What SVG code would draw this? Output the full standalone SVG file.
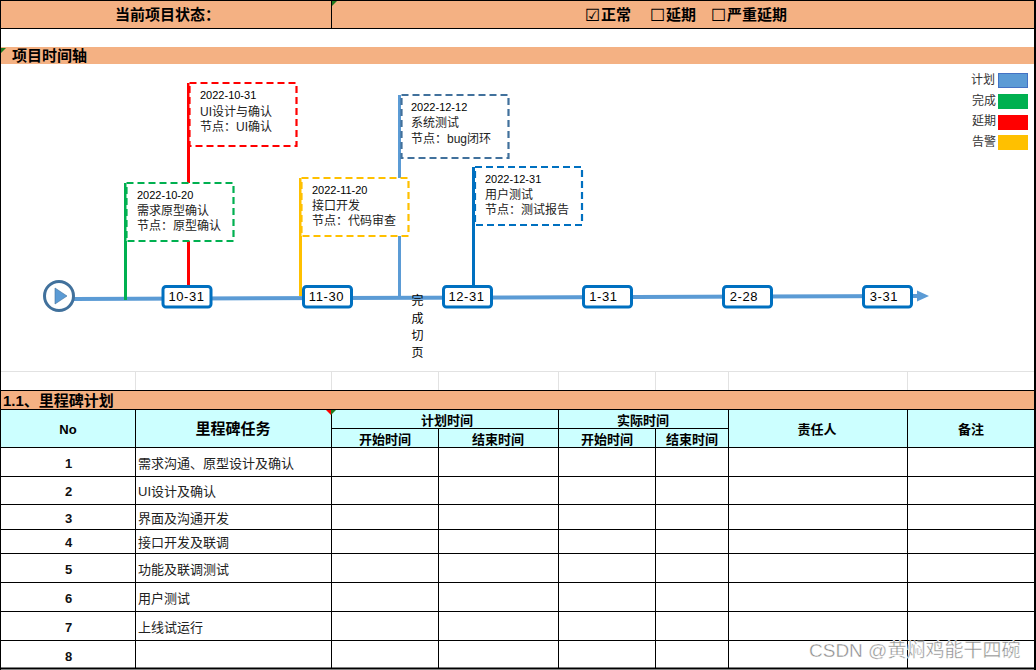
<svg xmlns="http://www.w3.org/2000/svg" width="1036" height="670" viewBox="0 0 1036 670">
<style>
text{font-family:"Liberation Sans","Noto Sans CJK SC",sans-serif;fill:#000}
.grid{stroke:#000;stroke-width:1;fill:none}
.faint{stroke:#e2e2e2;stroke-width:1;fill:none}
.band{fill:#f4b183}
.head{fill:#ccffff}
.t14{font-size:15px;font-weight:bold}
.t13{font-size:13px;font-weight:bold}
.tm{text-anchor:middle}
.flagt{font-size:12px;fill:#222}
.flagd{font-size:11px;fill:#000}
.flag{fill:#fff;stroke-width:2.200;stroke-dasharray:7 4}
.pole{stroke-width:3;fill:none}
.date rect{fill:#fff;stroke:#0070c0;stroke-width:3}
.date text{font-size:13px;letter-spacing:.6px;text-anchor:middle}
.num{font-size:13px;font-weight:bold;text-anchor:middle;fill:#111}
.task{font-size:13px;fill:#222}
.leg{font-size:12px;fill:#333;text-anchor:end}
.box{font-family:"DejaVu Sans",sans-serif;font-size:17px}
</style>
<rect width="1036" height="670" fill="#fff"/>

<g id="status-bar">
<rect class="band" x="0" y="0" width="1035" height="28"/>
<path class="grid" d="M0 .5H1036M0 28.5H1036M331.5 0V28"/>
<path d="M332 1h5l-5 5z" fill="#1f7a1f"/>
<text class="t14" x="115" y="20">当前项目状态：</text>
<text class="box" x="585" y="21" font-weight="bold">☑</text><text class="t14" x="601" y="20">正常</text>
<text class="box" x="650" y="21">☐</text><text class="t14" x="666" y="20">延期</text>
<text class="box" x="711" y="21">☐</text><text class="t14" x="727" y="20">严重延期</text>
</g>

<g id="timeline-title">
<rect class="band" x="0" y="47" width="1035" height="17"/>
<path d="M1 48h5l-5 5z" fill="#1f7a1f"/>
<text x="12" y="61" class="t14">项目时间轴</text>
</g>

<g id="connectors">
<path d="M74 299 L917 296" stroke="#5b9bd5" stroke-width="4" fill="none"/>
<path d="M917 290.500 L929 296 L917 301.500z" fill="#5b9bd5"/>
<path class="pole" stroke="#ff0000" d="M188.500 83V286"/>
<path class="pole" stroke="#00b050" d="M125.500 183V300"/>
<path class="pole" stroke="#ffc000" d="M300.500 178V296"/>
<path class="pole" stroke="#5b9bd5" d="M399.500 95V297"/>
<path class="pole" stroke="#0070c0" d="M473.500 167V285"/>
</g>

<g id="start">
<circle cx="59" cy="296" r="14.500" fill="#fff" stroke="#41719c" stroke-width="3"/>
<path d="M55 288 L67 296 L55 304z" fill="#5b9bd5" stroke="#41719c" stroke-width=".6"/>
</g>

<g id="flag-1031">
<rect class="flag" x="189.500" y="83" width="107" height="63" stroke="#ff0000"/>
<text class="flagd" x="200" y="99">2022-10-31</text>
<text class="flagt" x="200" y="116">UI设计与确认</text>
<text class="flagt" x="200" y="131">节点：UI确认</text>
</g>
<g id="flag-1020">
<rect class="flag" x="126.500" y="183" width="107" height="58" stroke="#00b050"/>
<text class="flagd" x="137" y="199">2022-10-20</text>
<text class="flagt" x="137" y="215">需求原型确认</text>
<text class="flagt" x="137" y="230">节点：原型确认</text>
</g>
<g id="flag-1120">
<rect class="flag" x="301.500" y="178" width="107" height="58" stroke="#ffc000"/>
<text class="flagd" x="312" y="194">2022-11-20</text>
<text class="flagt" x="312" y="210">接口开发</text>
<text class="flagt" x="312" y="225">节点：代码审查</text>
</g>
<g id="flag-1212">
<rect class="flag" x="401.500" y="95" width="107" height="63" stroke="#41719c"/>
<text class="flagd" x="411" y="111">2022-12-12</text>
<text class="flagt" x="411" y="127">系统测试</text>
<text class="flagt" x="411" y="143">节点：bug闭环</text>
</g>
<g id="flag-1231">
<rect class="flag" x="475" y="167" width="107" height="58" stroke="#0070c0"/>
<text class="flagd" x="485" y="183">2022-12-31</text>
<text class="flagt" x="485" y="199">用户测试</text>
<text class="flagt" x="485" y="214">节点：测试报告</text>
</g>

<g id="vertical-note">
<text class="tm" x="417.500" y="305" font-size="12">完</text>
<text class="tm" x="417.500" y="323" font-size="12">成</text>
<text class="tm" x="417.500" y="340" font-size="12">切</text>
<text class="tm" x="417.500" y="357" font-size="12">页</text>
</g>

<g id="date-1031" class="date"><rect x="163" y="286.500" width="48" height="20.500" rx="3"/><text x="186.500" y="301">10-31</text></g>
<g id="date-1130" class="date"><rect x="303.500" y="286.500" width="48" height="20.500" rx="3"/><text x="326.500" y="301">11-30</text></g>
<g id="date-1231" class="date"><rect x="443.500" y="286.500" width="48" height="20.500" rx="3"/><text x="466.500" y="301">12-31</text></g>
<g id="date-0131" class="date"><rect x="583.500" y="286.500" width="48" height="20.500" rx="3"/><text x="603.500" y="301">1-31</text></g>
<g id="date-0228" class="date"><rect x="723.500" y="286.500" width="48" height="20.500" rx="3"/><text x="744" y="301">2-28</text></g>
<g id="date-0331" class="date"><rect x="863.500" y="286.500" width="48" height="20.500" rx="3"/><text x="884" y="301">3-31</text></g>

<g id="legend">
<text class="leg" x="995" y="84">计划</text><rect x="998.500" y="73.500" width="29" height="14" fill="#5b9bd5" stroke="#4472c4"/>
<text class="leg" x="996" y="105">完成</text><rect x="998" y="94" width="30" height="15" fill="#00b050"/>
<text class="leg" x="996" y="125">延期</text><rect x="998" y="115" width="30" height="15" fill="#ff0000"/>
<text class="leg" x="996" y="146">告警</text><rect x="998" y="135" width="30" height="15" fill="#ffc000"/>
</g>

<g id="milestone-table">
<path class="faint" d="M0 371.500H1036M135.500 372V390M331.500 372V390M438.500 372V390M558.500 372V390M655.500 372V390M728.500 372V390M907.500 372V390"/>
<rect class="band" x="0" y="390" width="1035" height="19"/>
<rect class="head" x="0" y="409" width="1035" height="38"/>
<path class="grid" d="M0 390.500H1036M0 409.500H1036M331 428.500H728M0 447.500H1036M0 476.500H1036M0 504.500H1036M0 529.500H1036M0 553.500H1036M0 582.500H1036M0 611.500H1036M0 640.500H1036M135.500 409V669M331.500 409V669M438.500 428V669M558.500 409V669M655.500 428V669M728.500 409V669M907.500 409V669"/>
<path d="M0 668.500H1036" stroke="#000" stroke-width="2"/>
<path d="M326 410h5l0 5z" fill="#ff0000"/><path d="M331 410h5l-5 5z" fill="#1f7a1f"/>
<text x="3" y="406" class="t14">1.1、里程碑计划</text>
<text class="t13 tm" x="68" y="434">No</text>
<text class="t14 tm" x="233" y="434">里程碑任务</text>
<text class="t13 tm" x="447" y="425">计划时间</text>
<text class="t13 tm" x="643" y="425">实际时间</text>
<text class="t13 tm" x="385" y="444">开始时间</text>
<text class="t13 tm" x="498" y="444">结束时间</text>
<text class="t13 tm" x="607" y="444">开始时间</text>
<text class="t13 tm" x="692" y="444">结束时间</text>
<text class="t13 tm" x="817" y="434">责任人</text>
<text class="t13 tm" x="971" y="434">备注</text>
<text class="num" x="68.500" y="468">1</text><text class="task" x="138" y="468">需求沟通、原型设计及确认</text>
<text class="num" x="68.500" y="496">2</text><text class="task" x="138" y="496">UI设计及确认</text>
<text class="num" x="68.500" y="523">3</text><text class="task" x="138" y="523">界面及沟通开发</text>
<text class="num" x="68.500" y="547">4</text><text class="task" x="138" y="547">接口开发及联调</text>
<text class="num" x="68.500" y="574">5</text><text class="task" x="138" y="574">功能及联调测试</text>
<text class="num" x="68.500" y="603">6</text><text class="task" x="138" y="603">用户测试</text>
<text class="num" x="68.500" y="632">7</text><text class="task" x="138" y="632">上线试运行</text>
<text class="num" x="68.500" y="661">8</text>
</g>

<g id="frame">
<path d="M.5 0V670" stroke="#000" fill="none"/>
<path d="M1035 0V670" stroke="#000" stroke-width="2" fill="none"/>
</g>

<g id="watermark">
<text x="809" y="657" font-size="19" style="fill:#8a8a8a;stroke:#fff;stroke-width:.4">CSDN @黄焖鸡能干四碗</text>
</g>
</svg>
